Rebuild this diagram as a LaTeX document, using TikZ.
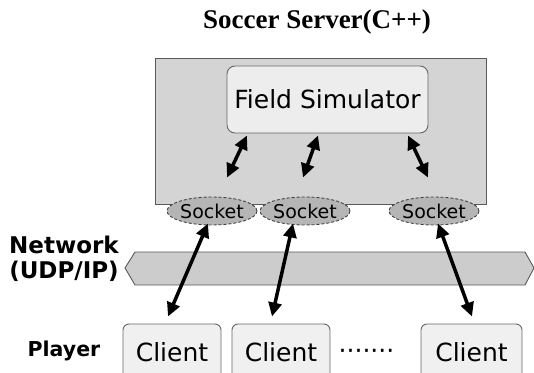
\documentclass[tikz,border=0pt]{standalone}
\usepackage{fontspec}
\setmainfont{Liberation Serif}
\newfontfamily\versans{DejaVu Sans}
\usepackage{tikz}
\usetikzlibrary{arrows.meta, shapes.geometric}

\begin{document}
\begin{tikzpicture}[
    x=1pt, y=1pt,
    >={Triangle[length=14pt,width=13pt]},
    box/.style={draw=black!60, line width=0.9pt, rounded corners=8pt,
                fill=black!7, inner sep=0pt,
                font=\versans\fontsize{25}{28}\selectfont},
    sock/.style={ellipse, draw=black!75, densely dashed, line width=0.9pt,
                 fill=black!29, minimum width=77pt, minimum height=28pt,
                 inner sep=0pt, font=\versans\fontsize{19}{20}\selectfont},
    lab/.style={align=center, inner sep=0pt,
                font=\versans\bfseries\fontsize{23}{25}\selectfont},
    sig/.style={<->, line width=3.5pt},
  ]
  \useasboundingbox (0,0) rectangle (534,372);

  %% ---- server ----------------------------------------------------------
  \node[font=\bfseries\fontsize{27}{30}\selectfont] (ttl) at (317,350)
    {Soccer Server(C++)};
  \draw[draw=black!65, line width=0.9pt, fill=black!17]
    (155,168) rectangle (486,314);
  \node[box, minimum width=201pt, minimum height=67pt] (fs) at (327.5,272.5)
    {Field Simulator};

  \node[sock] (s1) at (212,161) {Socket};
  \node[sock] (s2) at (305,161) {Socket};
  \node[sock] (s3) at (434,161) {Socket};

  \draw[sig] ([shift={(-80.5,-2)}]fs.south) -- ([shift={(15,19)}]s1.north);
  \draw[sig] ([shift={(-9.5,-2)}]fs.south)  -- ([shift={(-2,19)}]s2.north);
  \draw[sig] ([shift={(80.5,-2)}]fs.south)  -- ([shift={(-6,19)}]s3.north);

  %% ---- network ---------------------------------------------------------
  \draw[draw=black!65, line width=0.9pt, fill=black!20]
    (125,104) -- (135,120) -- (525,120) -- (534,104) -- (525,87)
    -- (135,87) -- cycle;
  \node[lab] (net) at (64,113.5) {Network\\(UDP/IP)};

  %% ---- players ---------------------------------------------------------
  \node[lab, font=\versans\bfseries\fontsize{20.5}{22}\selectfont] (pl)
    at (64,21) {Player};
  \node[box, rounded corners=6pt, fill=black!6, minimum width=98pt,
        minimum height=56pt] (c1) at (172,20) {Client};
  \node[box, rounded corners=6pt, fill=black!6, minimum width=98pt,
        minimum height=56pt] (c2) at (281,20) {Client};
  \node[box, rounded corners=6pt, fill=black!6, minimum width=101pt,
        minimum height=56pt] (c3) at (471.5,20) {Client};
  \node[font=\versans\fontsize{25}{28}\selectfont, inner sep=0pt]
    (dd) at (366.5,18) {·······};

  \draw[sig] ([shift={(-4,2)}]s1.south)  -- ([shift={(-4,7)}]c1.north);
  \draw[sig] ([shift={(-12,2)}]s2.south) -- ([shift={(-9,7)}]c2.north);
  \draw[sig] ([shift={(4,2)}]s3.south)   -- ([shift={(0.5,7)}]c3.north);

\end{tikzpicture}
\end{document}
